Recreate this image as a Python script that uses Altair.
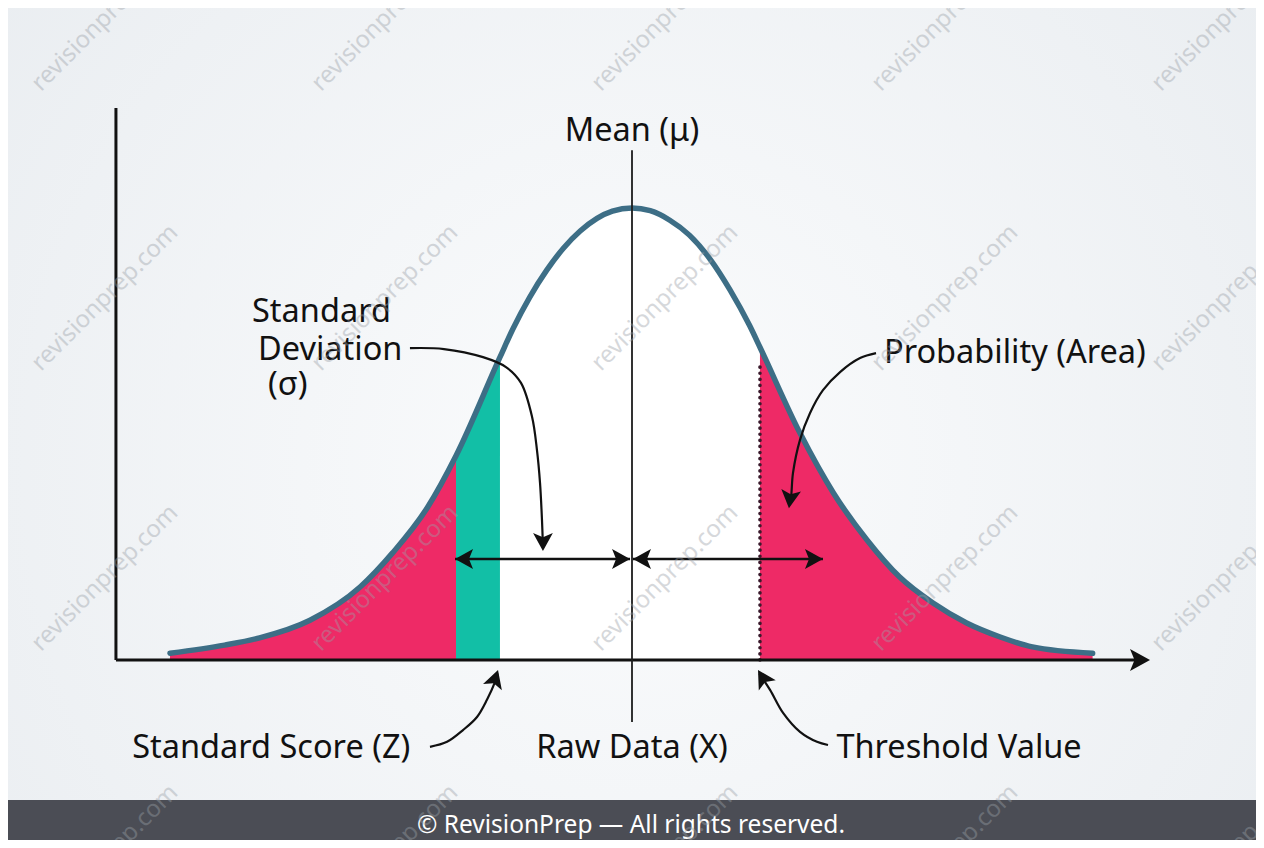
import altair as alt
import pandas as pd

# ---------------- data ----------------
# bell curve: position (in sigma-like units, mean = 0) and relative height (peak = 1)
curve_z = [-3.30, -2.91, -2.66, -2.30, -1.94, -1.71, -1.46, -1.257, -0.943, -0.85,
           -0.73, -0.61, -0.49, -0.37, -0.25, -0.14, 0.0, 0.13, 0.27, 0.41,
           0.56, 0.70, 0.84, 0.914, 1.20, 1.44, 1.68, 1.91, 2.15, 2.39,
           2.63, 2.86, 3.29]
curve_h = [0.015, 0.033, 0.049, 0.088, 0.162, 0.237, 0.338, 0.452, 0.670, 0.733,
           0.803, 0.862, 0.911, 0.949, 0.977, 0.993, 1.0, 0.994, 0.973, 0.940,
           0.886, 0.819, 0.740, 0.692, 0.502, 0.369, 0.265, 0.184, 0.126, 0.082,
           0.051, 0.029, 0.015]

z_green_lo = -1.257     # standard score band
z_green_hi = -0.943
z_thresh = 0.914        # threshold value
thresh_top = 0.659

yaxis_z = -3.686
yaxis_top = 1.221
xaxis_end = 3.70
mean_top = 1.128
mean_bottom = -0.137

sd_arrow_h = 0.2235
sd_arrow_from = [-1.264, 0.007]
sd_arrow_to = [-0.014, 1.364]

# curved pointer paths
sd_path_z = [-1.586, -1.343, -1.064, -0.900, -0.793, -0.714, -0.679, -0.657, -0.643, -0.636]
sd_path_h = [0.690, 0.688, 0.670, 0.648, 0.613, 0.538, 0.465, 0.392, 0.310, 0.250]
prob_path_z = [1.743, 1.629, 1.486, 1.364, 1.271, 1.200, 1.150, 1.136, 1.124]
prob_path_h = [0.679, 0.668, 0.637, 0.597, 0.546, 0.487, 0.414, 0.361, 0.345]
score_path_z = [-1.443, -1.321, -1.207, -1.107, -1.036, -0.979, -0.960]
score_path_h = [-0.192, -0.181, -0.155, -0.126, -0.088, -0.049, -0.030]
thr_path_z = [1.400, 1.321, 1.200, 1.079, 0.986, 0.910]
thr_path_h = [-0.188, -0.181, -0.159, -0.117, -0.066, -0.030]

# arrow heads: tip position and pointing direction (degrees, clockwise from right)
head_z = [-1.264, -0.014, 0.007, 1.364, 3.70, -0.636, 1.121, -0.957, 0.900]
head_h = [0.2235, 0.2235, 0.2235, 0.2235, 0.0, 0.241, 0.336, -0.022, -0.022]
head_ang = [180, 0, 180, 0, 0, 90, 97, 288, 239]
head_size = [324, 324, 324, 324, 400, 324, 324, 324, 324]

# labels
label_text = ["Standard", "Deviation", "(σ)", "Probability (Area)", "Standard Score (Z)", "Threshold Value"]
label_z = [-2.714, -2.671, -2.600, 1.800, -3.570, 1.460]
label_h = [0.748, 0.664, 0.586, 0.657, -0.217, -0.217]
center_text = ["Mean (μ)", "Raw Data (X)"]
center_z = [0.0, 0.0]
center_h = [1.148, -0.217]

wm_cols = [-3.764, -1.764, 0.236, 2.236, 4.236]
wm_rows = [1.420, 0.801, 0.181, -0.438]

footer = "© RevisionPrep — All rights reserved."

# ---------------- chart ----------------
W, H = 1248, 832
RED = "#ee2a66"
GREEN = "#12bfa6"
CURVE = "#3d6e86"
INK = "#111111"
FONT = "Noto Sans"
FS = 32.5

XS = alt.Scale(domain=[-4.457, 4.457], nice=False, zero=False)
YS = alt.Scale(domain=[-0.3982, 1.4425], nice=False, zero=False)


def X(f="z"):
    return alt.X(f"{f}:Q", scale=XS, axis=None)


def Y(f="h"):
    return alt.Y(f"{f}:Q", scale=YS, axis=None)


curve = pd.DataFrame({"z": curve_z, "h": curve_h})
seg_left = curve[curve.z <= z_green_lo]
seg_green = curve[(curve.z >= z_green_lo) & (curve.z <= z_green_hi)]
seg_white = curve[(curve.z >= z_green_hi) & (curve.z <= z_thresh)]
seg_right = curve[curve.z >= z_thresh]

one = pd.DataFrame({"a": [0]})

bg = alt.Chart(one).mark_rect(
    color={"gradient": "radial",
           "stops": [{"offset": 0, "color": "#fbfcfd"}, {"offset": 1, "color": "#e7ebef"}],
           "x1": 0.5, "y1": 0.55, "x2": 0.5, "y2": 0.55, "r1": 0, "r2": 0.75}
).encode(x=alt.value(0), x2=alt.value(W), y=alt.value(0), y2=alt.value(H - 40))


def area(df, col):
    return alt.Chart(df).mark_area(interpolate="monotone", color=col, opacity=1).encode(
        x=X(), y=Y(), y2=alt.datum(0))


areas = [area(seg_left, RED), area(seg_green, GREEN), area(seg_white, "#ffffff"), area(seg_right, RED)]

thresh = alt.Chart(pd.DataFrame({"z": [z_thresh], "h1": [0.0], "h2": [thresh_top]})).mark_rule(
    color="#3a1a2c", strokeWidth=3.6, strokeDash=[0.1, 6], strokeCap="round"
).encode(x=X(), y=Y("h1"), y2=alt.Y2("h2"))

curve_line = alt.Chart(curve).mark_line(
    interpolate="monotone", color=CURVE, strokeWidth=5.5, strokeCap="round"
).encode(x=X(), y=Y())

yaxis = alt.Chart(pd.DataFrame({"z": [yaxis_z], "h1": [0.0], "h2": [yaxis_top]})).mark_rule(
    color=INK, strokeWidth=3).encode(x=X(), y=Y("h1"), y2=alt.Y2("h2"))
xaxis = alt.Chart(pd.DataFrame({"z1": [yaxis_z], "z2": [xaxis_end - 0.05], "h": [0.0]})).mark_rule(
    color=INK, strokeWidth=3).encode(x=X("z1"), x2=alt.X2("z2"), y=Y())
mean = alt.Chart(pd.DataFrame({"z": [0.0], "h1": [mean_bottom], "h2": [mean_top]})).mark_rule(
    color="#1c1c1c", strokeWidth=1.8).encode(x=X(), y=Y("h1"), y2=alt.Y2("h2"))

sd_arrows = alt.Chart(pd.DataFrame({"z1": sd_arrow_from, "z2": sd_arrow_to,
                                    "h": [sd_arrow_h] * 2})).mark_rule(
    color=INK, strokeWidth=2.6).encode(x=X("z1"), x2=alt.X2("z2"), y=Y())

paths = []
for name, zz, hh in [("sd", sd_path_z, sd_path_h), ("prob", prob_path_z, prob_path_h),
                     ("score", score_path_z, score_path_h), ("thr", thr_path_z, thr_path_h)]:
    for i, (a, b) in enumerate(zip(zz, hh)):
        paths.append({"id": name, "o": i, "z": a, "h": b})
pointers = alt.Chart(pd.DataFrame(paths)).mark_line(
    interpolate="catmull-rom", color=INK, strokeWidth=2.2
).encode(x=X(), y=Y(), detail="id:N", order="o:Q")

heads = alt.Chart(pd.DataFrame({"z": head_z, "h": head_h, "ang": head_ang, "s": head_size})).mark_point(
    shape="M0,0L-2,-1.1L-1.55,0L-2,1.1Z", filled=True, color=INK, opacity=1, strokeWidth=0
).encode(x=X(), y=Y(), angle=alt.Angle("ang:Q", scale=None), size=alt.Size("s:Q", scale=None))

labels_left = alt.Chart(pd.DataFrame({"t": label_text, "z": label_z, "h": label_h})).mark_text(
    align="left", baseline="alphabetic", font=FONT, fontSize=FS, color=INK
).encode(x=X(), y=Y(), text="t:N")
labels_center = alt.Chart(pd.DataFrame({"t": center_text, "z": center_z, "h": center_h})).mark_text(
    align="center", baseline="alphabetic", font=FONT, fontSize=FS, color=INK
).encode(x=X(), y=Y(), text="t:N")

foot_bar = alt.Chart(one).mark_rect(color="#4b4d55").encode(
    x=alt.value(0), x2=alt.value(W), y=alt.value(H - 40), y2=alt.value(H))
foot_text = alt.Chart(pd.DataFrame({"t": [footer]})).mark_text(
    align="center", baseline="middle", font=FONT, fontSize=24.5, color="#ffffff"
).encode(x=alt.value(623), y=alt.value(818), text="t:N")

wm = pd.DataFrame([{"z": c, "h": r, "t": "revisionprep.com"} for r in wm_rows for c in wm_cols])
watermarks = alt.Chart(wm).mark_text(
    angle=315, font=FONT, fontSize=24, color="#9aa0a7", opacity=0.4, align="center", baseline="middle"
).encode(x=X(), y=Y(), text="t:N")

chart = alt.layer(
    bg, *areas, thresh, curve_line, yaxis, xaxis, mean, sd_arrows, pointers, heads,
    labels_left, labels_center, foot_bar, foot_text, watermarks
).properties(
    width=W, height=H, padding=0, background="#eef1f4",
    autosize=alt.AutoSizeParams(type="none")
).configure_view(stroke=None)

chart.save("out.html", embed_options={"renderer": "svg", "actions": False})
